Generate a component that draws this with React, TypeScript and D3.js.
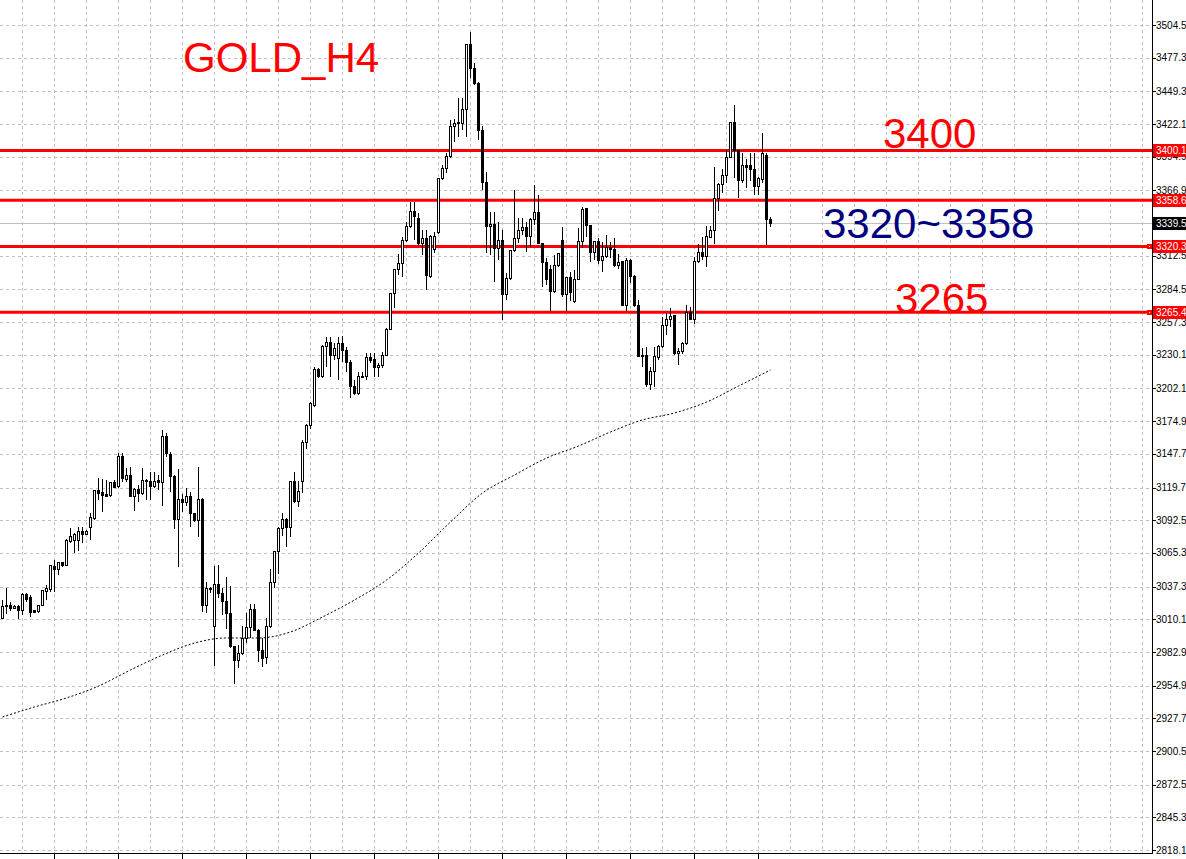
import React from 'react';
import * as d3 from 'd3';

const W = 1186;
const H = 859;

// H4 candles, oldest first
const open = [
  3011.1, 3021.1, 3021.9, 3019.4, 3021.1, 3017.2, 3030.3, 3027.8, 3017.0, 3016.4,
  3021.7, 3033.0, 3035.0, 3053.8, 3051.6, 3057.1, 3055.2, 3074.6, 3075.4, 3076.0,
  3082.9, 3080.8, 3086.6, 3093.5, 3116.8, 3115.4, 3113.5, 3112.9, 3124.0, 3120.4,
  3145.3, 3126.5, 3130.1, 3112.6, 3118.2, 3114.3, 3125.9, 3125.1, 3120.4, 3125.9,
  3124.0, 3162.5, 3147.3, 3128.7, 3092.7, 3109.9, 3107.4, 3112.6, 3098.2, 3092.1,
  3109.9, 3021.4, 3035.8, 3003.9, 3038.6, 3031.7, 3024.7, 3015.0, 2987.2, 2975.6,
  2981.2, 2994.2, 3003.4, 3017.8, 3001.1, 2983.9, 2978.4, 3003.9, 3040.5, 3066.3,
  3085.8, 3093.2, 3086.6, 3124.5, 3107.9, 3124.5, 3157.0, 3170.9, 3188.3, 3217.5,
  3211.9, 3237.4, 3240.2, 3229.9, 3227.2, 3239.7, 3234.1, 3223.5, 3204.1, 3198.1,
  3211.9, 3211.9, 3228.0, 3225.8, 3219.7, 3221.6, 3229.9, 3251.3, 3281.3, 3300.7,
  3306.2, 3325.6, 3336.7, 3349.2, 3343.7, 3322.9, 3327.0, 3295.1, 3318.1, 3332.0,
  3376.9, 3385.3, 3394.9, 3419.9, 3422.7, 3422.7, 3434.4, 3487.9, 3468.5, 3456.0,
  3417.1, 3373.3, 3336.7, 3338.9, 3318.7, 3325.6, 3279.9, 3293.8, 3316.5, 3327.0,
  3333.4, 3336.2, 3328.9, 3342.3, 3348.7, 3322.9, 3306.7, 3301.2, 3282.6, 3304.8,
  3325.0, 3279.9, 3294.6, 3274.3, 3292.9, 3324.2, 3352.0, 3337.3, 3315.1, 3324.2,
  3308.4, 3311.7, 3319.2, 3317.3, 3304.8, 3307.6, 3271.5, 3308.4, 3295.1, 3271.5,
  3229.9, 3229.9, 3205.0, 3216.0, 3228.0, 3236.8, 3254.1, 3259.1, 3263.2, 3230.8,
  3232.7, 3239.1, 3265.1, 3259.6, 3307.6, 3315.1, 3311.7, 3327.9, 3333.9, 3360.3,
  3371.4, 3378.9, 3394.4, 3423.2, 3400.5, 3374.9, 3388.0, 3387.2, 3384.4, 3370.5,
  3376.1, 3396.3, 3342.8,
];

const high = [
  3026.1, 3036.1, 3024.7, 3021.9, 3021.9, 3031.9, 3031.7, 3030.3, 3017.8, 3021.9,
  3034.4, 3038.6, 3055.2, 3059.4, 3058.0, 3058.0, 3076.6, 3085.8, 3081.6, 3087.1,
  3086.6, 3084.3, 3098.2, 3117.6, 3127.4, 3126.5, 3125.9, 3124.5, 3125.9, 3148.2,
  3148.7, 3135.7, 3137.0, 3119.0, 3121.8, 3135.7, 3126.5, 3132.9, 3132.9, 3130.1,
  3167.5, 3164.8, 3149.0, 3130.1, 3134.8, 3114.3, 3119.0, 3116.2, 3098.7, 3137.0,
  3110.7, 3040.8, 3037.2, 3054.4, 3055.2, 3035.8, 3045.5, 3037.8, 2987.8, 2988.7,
  3004.5, 3015.5, 3022.8, 3022.8, 3001.7, 2994.2, 3010.9, 3051.6, 3067.1, 3086.6,
  3098.7, 3094.1, 3125.1, 3132.9, 3125.4, 3159.2, 3172.5, 3191.1, 3220.2, 3218.9,
  3238.3, 3244.9, 3245.2, 3239.7, 3245.2, 3245.8, 3236.8, 3225.8, 3209.1, 3216.0,
  3216.0, 3231.4, 3231.4, 3231.4, 3223.0, 3232.7, 3252.2, 3281.8, 3301.2, 3314.0,
  3328.4, 3340.8, 3357.5, 3357.5, 3347.8, 3333.9, 3333.9, 3329.8, 3332.5, 3377.2,
  3388.0, 3397.8, 3425.5, 3426.0, 3443.5, 3443.5, 3487.9, 3498.9, 3472.6, 3457.3,
  3420.5, 3382.4, 3349.2, 3349.2, 3340.8, 3333.9, 3297.9, 3317.3, 3367.2, 3343.7,
  3343.7, 3340.8, 3343.7, 3371.4, 3363.1, 3323.3, 3310.4, 3304.8, 3313.1, 3314.6,
  3336.2, 3295.1, 3299.2, 3300.7, 3335.3, 3352.8, 3352.5, 3337.6, 3325.0, 3327.0,
  3324.2, 3329.8, 3324.2, 3327.0, 3314.0, 3308.0, 3310.4, 3309.6, 3296.5, 3275.7,
  3235.5, 3236.8, 3220.2, 3236.8, 3238.3, 3261.8, 3265.1, 3268.8, 3263.6, 3235.5,
  3241.0, 3271.5, 3269.6, 3311.7, 3322.3, 3328.4, 3337.3, 3337.3, 3386.1, 3372.8,
  3384.4, 3400.5, 3424.0, 3437.9, 3400.8, 3398.3, 3392.8, 3398.3, 3398.3, 3377.8,
  3414.9, 3398.3, 3344.5,
];

const low = [
  3010.0, 3014.4, 3017.2, 3018.6, 3010.3, 3013.6, 3024.7, 3012.2, 3015.0, 3015.5,
  3021.1, 3026.1, 3033.0, 3033.0, 3046.9, 3053.8, 3054.4, 3073.3, 3065.0, 3067.1,
  3073.3, 3080.2, 3076.0, 3092.7, 3109.3, 3099.6, 3112.1, 3112.1, 3119.0, 3119.0,
  3124.5, 3124.5, 3112.6, 3100.4, 3107.9, 3113.5, 3109.3, 3109.3, 3119.0, 3117.6,
  3104.3, 3145.3, 3116.2, 3084.9, 3053.8, 3099.6, 3104.3, 3086.6, 3091.2, 3078.3,
  3016.4, 3015.5, 3031.7, 2971.2, 3027.5, 3013.6, 3001.7, 2985.9, 2956.2, 2969.3,
  2980.3, 2990.6, 2994.2, 3000.6, 2974.8, 2970.6, 2972.9, 3003.0, 3035.8, 3047.7,
  3079.3, 3070.5, 3078.3, 3106.6, 3103.2, 3115.4, 3151.5, 3168.1, 3186.9, 3210.6,
  3210.8, 3220.2, 3211.9, 3225.8, 3209.1, 3224.4, 3216.0, 3193.9, 3196.7, 3196.7,
  3210.6, 3209.1, 3223.0, 3211.9, 3211.9, 3218.9, 3229.1, 3250.7, 3268.8, 3296.5,
  3295.1, 3324.2, 3335.3, 3325.6, 3321.5, 3313.1, 3284.0, 3293.8, 3314.6, 3331.0,
  3375.5, 3381.1, 3393.6, 3407.4, 3411.6, 3417.1, 3411.6, 3460.2, 3454.6, 3408.8,
  3367.2, 3314.6, 3313.1, 3290.9, 3309.0, 3259.1, 3275.7, 3292.3, 3315.6, 3322.9,
  3329.8, 3315.9, 3320.0, 3338.1, 3322.3, 3286.3, 3288.2, 3266.8, 3281.3, 3303.4,
  3278.0, 3266.8, 3275.1, 3272.9, 3292.3, 3318.7, 3328.4, 3307.6, 3309.0, 3305.7,
  3299.2, 3310.4, 3310.4, 3303.4, 3301.2, 3270.7, 3266.8, 3289.6, 3269.6, 3228.0,
  3220.2, 3203.6, 3200.8, 3203.6, 3225.8, 3235.5, 3246.6, 3253.5, 3229.9, 3221.6,
  3230.8, 3238.3, 3259.1, 3255.7, 3306.7, 3309.0, 3303.4, 3327.0, 3322.3, 3350.0,
  3364.5, 3372.8, 3393.6, 3377.0, 3360.3, 3372.8, 3368.6, 3374.9, 3363.1, 3363.1,
  3373.3, 3321.5, 3336.7,
];

const close = [
  3020.3, 3021.5, 3019.4, 3021.1, 3017.2, 3030.3, 3026.9, 3015.5, 3015.5, 3021.9,
  3033.6, 3035.8, 3054.4, 3051.6, 3057.1, 3055.2, 3075.2, 3078.8, 3080.2, 3082.9,
  3080.8, 3083.5, 3094.6, 3116.8, 3114.9, 3112.9, 3112.6, 3124.0, 3119.9, 3145.3,
  3127.4, 3130.1, 3112.6, 3118.2, 3114.9, 3125.4, 3124.5, 3120.4, 3125.1, 3123.7,
  3162.5, 3148.2, 3128.7, 3092.7, 3109.9, 3107.4, 3112.6, 3098.2, 3092.1, 3109.9,
  3021.4, 3035.8, 3035.5, 3038.6, 3031.7, 3024.7, 3015.0, 2987.2, 2975.6, 2981.2,
  2994.2, 3003.4, 3017.8, 3001.1, 2983.9, 2977.6, 3003.9, 3040.5, 3066.3, 3085.8,
  3093.2, 3086.6, 3124.5, 3107.9, 3116.2, 3157.0, 3170.9, 3189.2, 3217.5, 3211.9,
  3237.4, 3240.2, 3229.9, 3235.5, 3239.7, 3233.5, 3223.5, 3203.6, 3198.1, 3211.9,
  3212.3, 3228.0, 3225.2, 3219.7, 3221.6, 3229.9, 3251.3, 3281.3, 3300.7, 3306.2,
  3325.6, 3336.7, 3349.2, 3345.0, 3322.9, 3327.0, 3296.5, 3328.4, 3328.4, 3376.9,
  3385.3, 3394.9, 3419.9, 3422.7, 3423.0, 3434.4, 3487.9, 3468.5, 3456.0, 3417.1,
  3373.3, 3336.7, 3338.9, 3318.7, 3325.6, 3279.9, 3293.8, 3316.5, 3327.0, 3333.4,
  3336.2, 3328.9, 3342.3, 3348.7, 3322.9, 3306.7, 3292.9, 3282.6, 3304.8, 3314.0,
  3279.9, 3294.6, 3281.8, 3292.9, 3324.2, 3351.2, 3337.3, 3315.1, 3324.2, 3308.4,
  3311.7, 3319.2, 3317.3, 3304.8, 3306.7, 3271.5, 3308.4, 3295.1, 3271.5, 3228.5,
  3228.5, 3205.0, 3216.0, 3228.5, 3236.8, 3254.1, 3259.1, 3261.8, 3230.8, 3232.7,
  3239.1, 3265.1, 3259.6, 3307.6, 3315.1, 3311.7, 3328.9, 3333.9, 3360.3, 3371.4,
  3378.9, 3394.4, 3423.2, 3400.5, 3374.9, 3388.0, 3386.1, 3383.9, 3370.5, 3377.0,
  3397.2, 3342.3, 3339.5,
];

// moving average (dotted line), read at every 8th bar
const maIndex = [0, 8, 16, 24, 32, 40, 48, 56, 64, 72, 80, 88, 96, 104, 112, 120, 128, 136, 144, 152, 160, 168, 176, 184, 192];
const maValue = [
  2928.8, 2937.1, 2944.6, 2954.5, 2967.9, 2980.3, 2990.3, 2994.5, 2994.5, 2999.5,
  3012.0, 3026.1, 3042.7, 3065.2, 3091.0, 3115.1, 3130.1, 3144.2, 3154.2, 3165.9,
  3175.9, 3181.7, 3190.8, 3204.1, 3217.5,
];

const priceTicks = [
  3504.5, 3477.3, 3449.3, 3422.1, 3394.9, 3366.9, 3312.5, 3284.5, 3257.3, 3230.1,
  3202.1, 3174.9, 3147.7, 3119.7, 3092.5, 3065.3, 3037.3, 3010.1, 2982.9, 2954.9,
  2927.7, 2900.5, 2872.5, 2845.3, 2818.1,
];
const priceTickLabels = priceTicks.map((v) => v.toFixed(1));

const timeTickIndex = [13, 29, 45, 61, 77, 93, 109, 125, 141, 157, 173, 189];

const levelPrices = [3400.18, 3358.6, 3320.3, 3265.49];
const levelLabels = ['3400.18', '3358.60', '3320.30', '3265.49'];
const levelMarked = [false, false, true, true];

const bidPrice = 3339.5;
const bidLabel = '3339.5';

const titleText = 'GOLD_H4';
const noteTexts = ['3400', '3320~3358', '3265'];

export default function App() {
  const plotRight = 1152;
  const plotBottom = 853;
  const N = Math.min(open.length, high.length, low.length, close.length);

  const y = d3.scaleLinear().domain([2818.1, 3504.5]).range([850, 25]);
  const x = d3.scaleLinear().domain([0, 192]).range([2.5, 770.5]);
  const gridIdx = d3.range(5, 290, 8).filter((i) => x(i) < plotRight);

  const snap = (v: number) => Math.round(v) + 0.5;

  const maLine = d3
    .line<number>()
    .x((d, k) => x(maIndex[k]))
    .y((d) => y(d))
    .curve(d3.curveMonotoneX);

  const axisFont = '"Liberation Sans", Arial, sans-serif';
  const bigFont = '"Liberation Sans", Arial, sans-serif';
  const labelX = 1156;

  return (
    <div style={{ position: 'absolute', left: 0, top: 0, width: W, height: H, overflow: 'hidden', background: '#fff' }}>
      <svg width={W} height={H} style={{ display: 'block' }}>
        <rect x={0} y={0} width={W} height={H} fill="#fff" />

        {/* grid */}
        <g stroke="#c0c0c0" strokeWidth={1} strokeDasharray="3,3" shapeRendering="crispEdges">
          {priceTicks.map((p, k) => (
            <line key={'h' + k} x1={0} x2={plotRight} y1={snap(y(p))} y2={snap(y(p))} />
          ))}
          {gridIdx.map((i) => (
            <line key={'v' + i} x1={x(i)} x2={x(i)} y1={0} y2={plotBottom} />
          ))}
        </g>

        {/* bid line */}
        <line x1={0} x2={plotRight} y1={snap(y(bidPrice))} y2={snap(y(bidPrice))} stroke="#c0c0c0" strokeWidth={1} shapeRendering="crispEdges" />

        {/* moving average */}
        <path d={maLine(maValue) || ''} fill="none" stroke="#000" strokeWidth={1} strokeDasharray="2,2" />

        {/* horizontal levels */}
        {levelPrices.map((p, k) => (
          <line key={'lv' + k} x1={0} x2={plotRight} y1={y(p)} y2={y(p)} stroke="#ff0000" strokeWidth={3} />
        ))}

        {/* candles */}
        <g shapeRendering="crispEdges">
          {d3.range(N).map((i) => {
            const cx = x(i);
            const o = open[i];
            const c = close[i];
            const bull = c >= o;
            const top = Math.floor(y(Math.max(o, c))) + 0.5;
            const bot = Math.floor(y(Math.min(o, c))) + 0.5;
            return (
              <g key={'c' + i}>
                <line x1={cx} x2={cx} y1={y(high[i])} y2={y(low[i])} stroke="#000" strokeWidth={1} />
                <rect
                  x={cx - 1}
                  y={top}
                  width={2}
                  height={Math.max(bot - top, 0.5)}
                  fill={bull ? '#fff' : '#000'}
                  stroke="#000"
                  strokeWidth={1}
                />
              </g>
            );
          })}
        </g>

        {/* annotations */}
        <text x={183} y={72} fontFamily={bigFont} fontSize={42} fill="#ff0000">{titleText}</text>
        <text x={883} y={148} fontFamily={bigFont} fontSize={42} fill="#ff0000">{noteTexts[0]}</text>
        <text x={823} y={238} fontFamily={bigFont} fontSize={42} fill="#000080">{noteTexts[1]}</text>
        <text x={895} y={313} fontFamily={bigFont} fontSize={42} fill="#ff0000">{noteTexts[2]}</text>

        {/* axes */}
        <g shapeRendering="crispEdges" stroke="#000" strokeWidth={1}>
          <line x1={plotRight + 0.5} x2={plotRight + 0.5} y1={0} y2={plotBottom + 1} />
          <line x1={0} x2={plotRight + 1} y1={plotBottom + 0.5} y2={plotBottom + 0.5} />
          {priceTicks.map((p, k) => (
            <line key={'t' + k} x1={plotRight} x2={plotRight + 4} y1={snap(y(p))} y2={snap(y(p))} />
          ))}
          {timeTickIndex.map((i) => (
            <line key={'tt' + i} x1={x(i)} x2={x(i)} y1={plotBottom} y2={H} />
          ))}
        </g>
        <g fontFamily={axisFont} fontSize={10} fill="#000">
          {priceTicks.map((p, k) => (
            <text key={'l' + k} x={labelX} y={y(p)} dy="0.36em">{priceTickLabels[k]}</text>
          ))}
        </g>

        {/* level price labels */}
        {levelPrices.map((p, k) => (
          <g key={'ll' + k}>
            <rect x={plotRight + 1} y={Math.round(y(p)) - 6} width={W - plotRight} height={13} fill="#ff0000" />
            <text x={labelX} y={y(p)} dy="0.36em" fontFamily={axisFont} fontSize={10} fill="#fff">{levelLabels[k]}</text>
            {levelMarked[k] && (
              <g>
                <rect x={plotRight - 5} y={Math.round(y(p)) - 2} width={5} height={5} fill="#ff0000" />
                <rect x={plotRight - 3} y={Math.round(y(p))} width={1} height={1} fill="#fff" />
              </g>
            )}
          </g>
        ))}
        <rect x={plotRight + 1} y={Math.round(y(bidPrice)) - 6} width={W - plotRight} height={13} fill="#000" />
        <text x={labelX} y={y(bidPrice)} dy="0.36em" fontFamily={axisFont} fontSize={10} fill="#fff">{bidLabel}</text>
      </svg>
    </div>
  );
}
